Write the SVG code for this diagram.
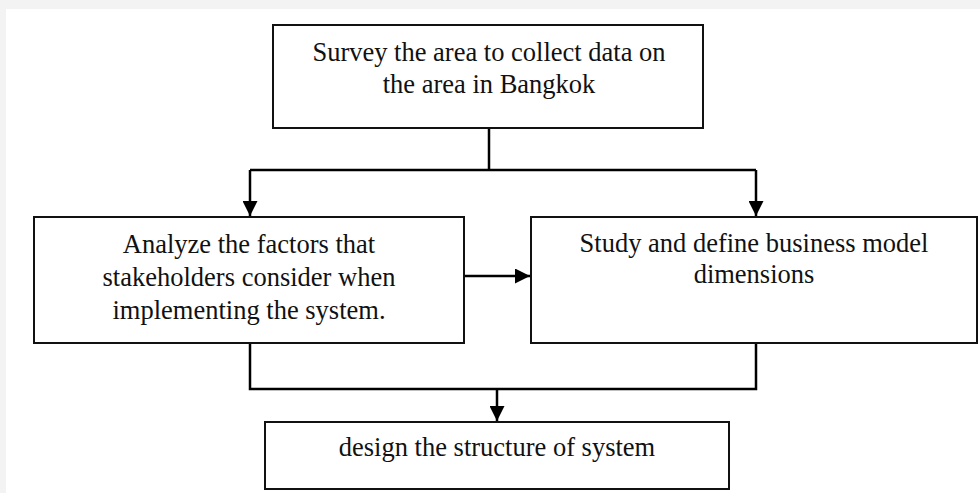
<svg xmlns="http://www.w3.org/2000/svg" width="980" height="493" viewBox="0 0 980 493">
<defs>
<style>
.box{fill:#fff;stroke:#111;stroke-width:2}
.t{font-size:26.5px;fill:#111;text-anchor:middle}
.c{fill:none;stroke:#000;stroke-width:2.5}
</style>
<marker id="ah" viewBox="0 0 10 10" refX="10" refY="5" markerWidth="15" markerHeight="15" markerUnits="userSpaceOnUse" orient="auto">
<path d="M0,0 L10,5 L0,10 z" fill="#000"/>
</marker>
</defs>
<rect x="0" y="0" width="980" height="493" fill="#f3f3f3"/>
<rect x="6" y="9" width="974" height="484" fill="#fff"/>
<g id="connectors">
<path class="c" d="M489,128 V170"/>
<path class="c" d="M250,170 H756"/>
<path class="c" d="M250,170 V216" marker-end="url(#ah)"/>
<path class="c" d="M756,170 V216" marker-end="url(#ah)"/>
<path class="c" d="M464,276 H530" marker-end="url(#ah)"/>
<path class="c" d="M250,343 V389 H756 V343"/>
<path class="c" d="M497,389 V421" marker-end="url(#ah)"/>
</g>
<g font-family="'Liberation Serif', 'Times New Roman', serif">
<g id="survey">
<rect class="box" x="273" y="25" width="430" height="103"/>
<text class="t" x="489" y="61">Survey the area to collect data on</text>
<text class="t" x="489" y="93">the area in Bangkok</text>
</g>
<g id="analyze">
<rect class="box" x="34" y="217" width="430" height="126"/>
<text class="t" x="249" y="253">Analyze the factors that</text>
<text class="t" x="249" y="286">stakeholders consider when</text>
<text class="t" x="249" y="319">implementing the system.</text>
</g>
<g id="study">
<rect class="box" x="531" y="217" width="446" height="126"/>
<text class="t" x="754" y="252">Study and define business model</text>
<text class="t" x="754" y="283">dimensions</text>
</g>
<g id="design">
<rect class="box" x="265" y="422" width="464" height="67"/>
<text class="t" x="497" y="456">design the structure of system</text>
</g>
</g>
</svg>
